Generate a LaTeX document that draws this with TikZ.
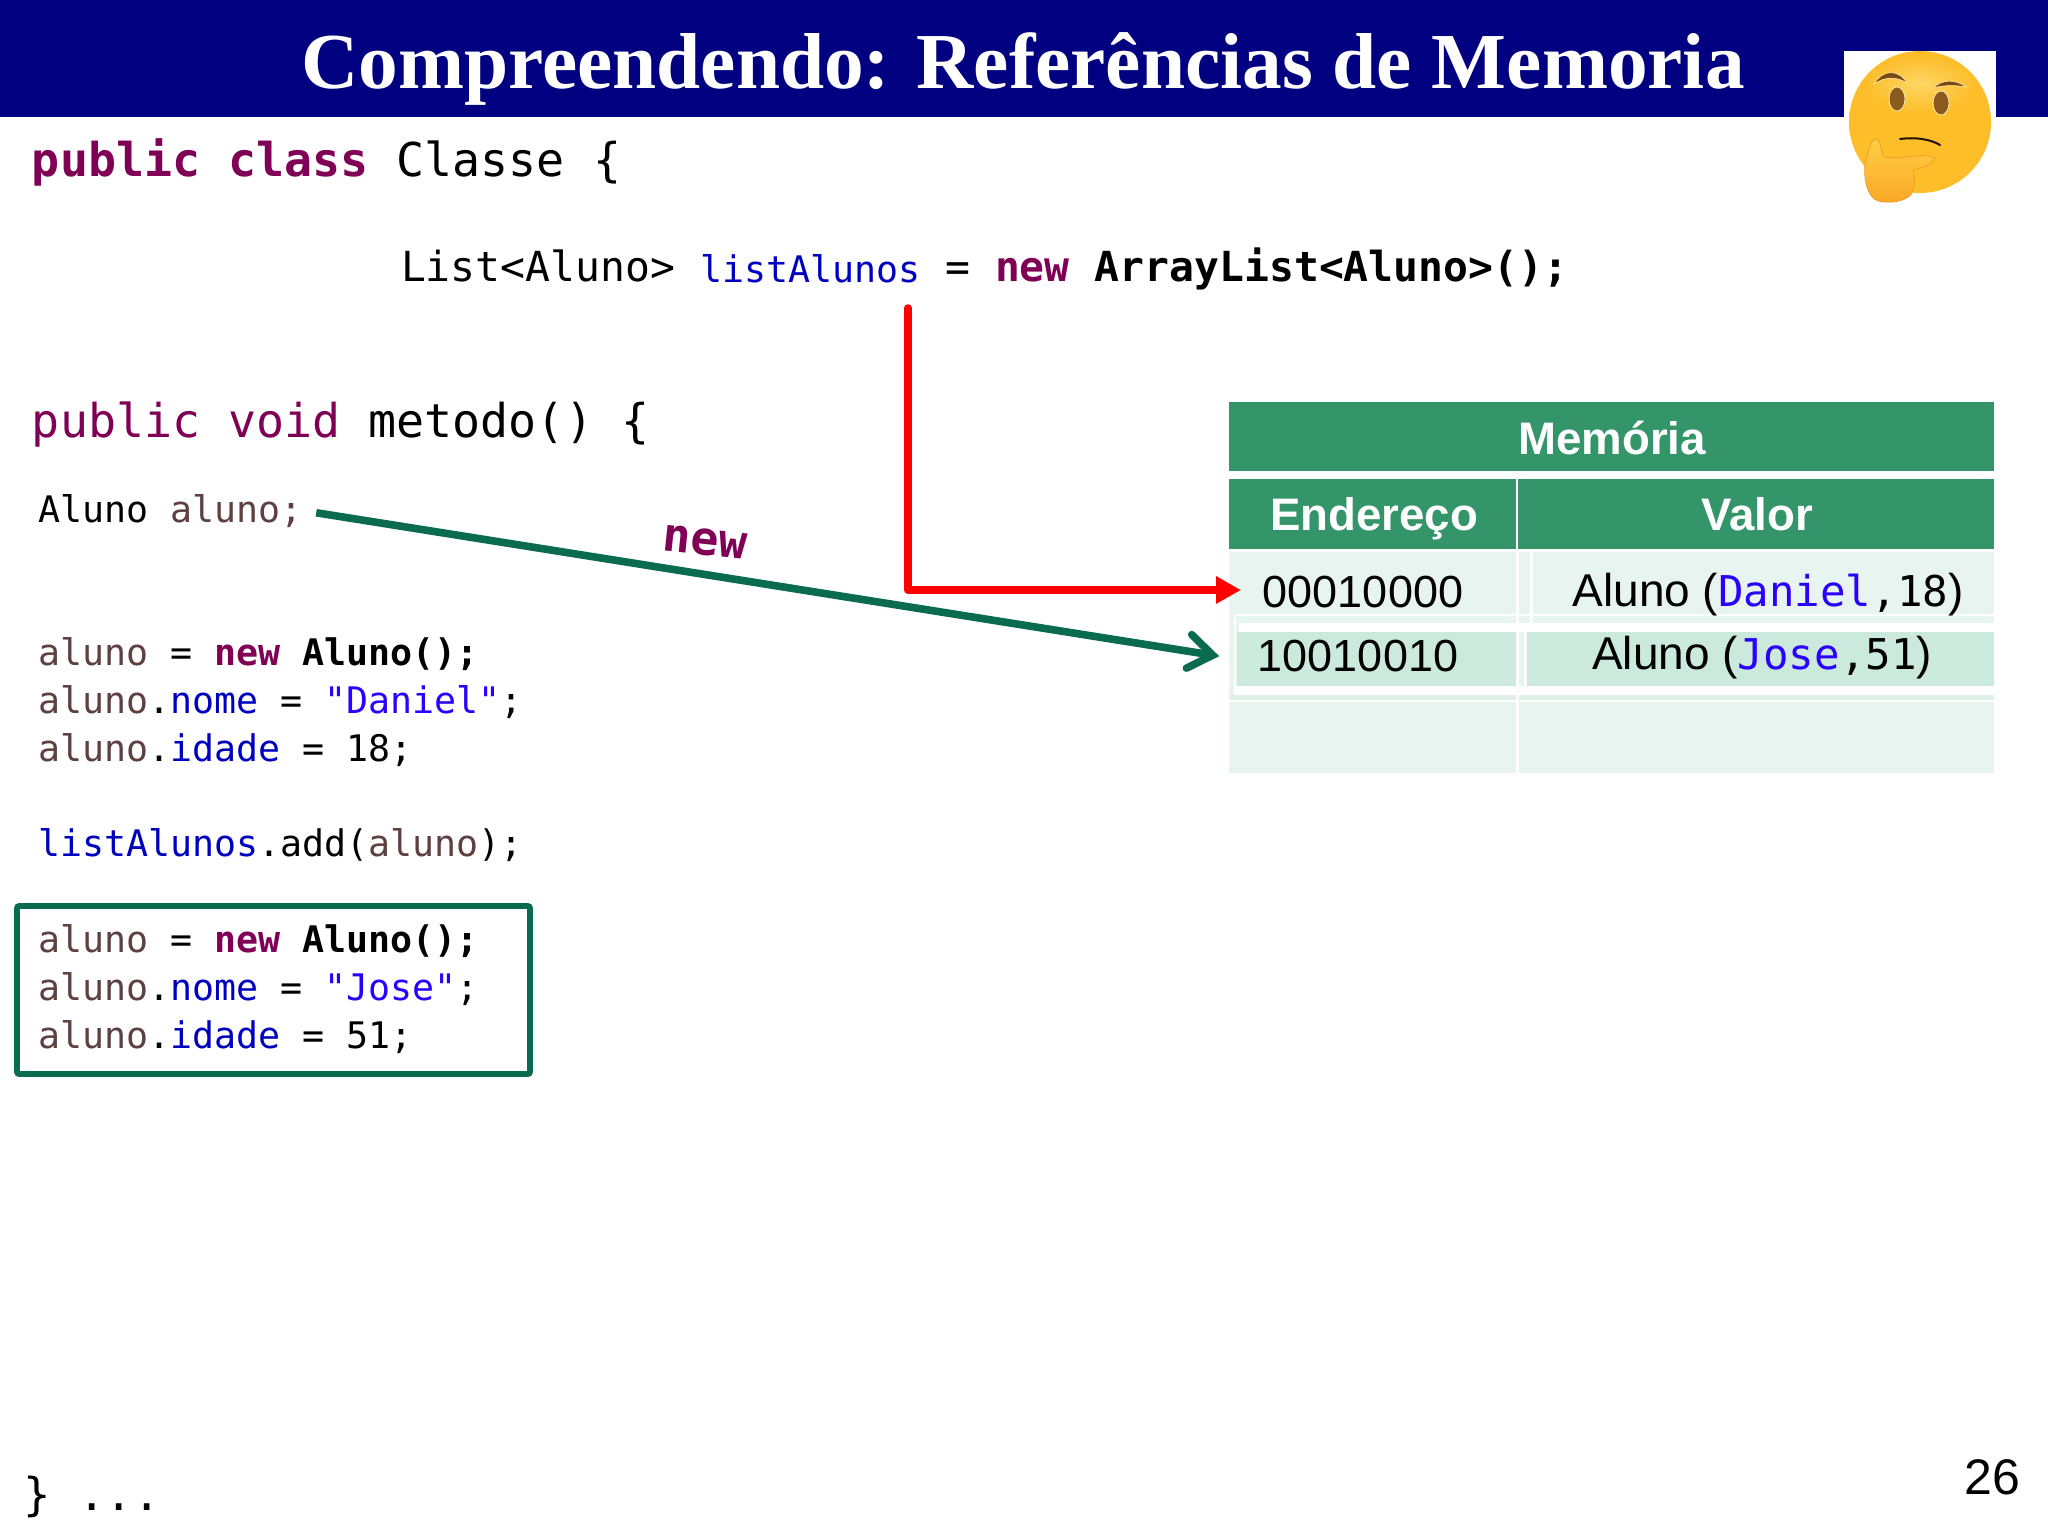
\documentclass[tikz,border=0pt]{standalone}
\usepackage{fontspec}
\usetikzlibrary{arrows.meta,calc,fadings}
\setmainfont{Liberation Sans}
\newfontfamily\mono{DejaVu Sans Mono}
\newfontfamily\ttl{Liberation Serif}
\definecolor{kw}{HTML}{7F0055}
\definecolor{loc}{HTML}{5E4040}
\definecolor{fld}{HTML}{0000C0}
\definecolor{str}{HTML}{2A00FF}
\definecolor{hdrgreen}{HTML}{35956A}
\definecolor{rowa}{HTML}{E8F4EF}
\definecolor{rowb}{HTML}{CCE9DE}
\definecolor{arrgreen}{HTML}{0B6B4F}
\definecolor{navy}{HTML}{000080}
\definecolor{emoA}{HTML}{FDBE2A}
\definecolor{emoB}{HTML}{FBAE26}
\definecolor{emoC}{HTML}{F39323}
\definecolor{emoH}{HTML}{FFD766}
\definecolor{handA}{HTML}{FFCE47}
\definecolor{handB}{HTML}{F9A825}
\definecolor{browc}{HTML}{7A4A12}
\definecolor{eyec}{HTML}{8A5A1E}
\definecolor{rimc}{HTML}{FFE9A8}
\pgfdeclareradialshading{emoface}{\pgfpoint{0bp}{0bp}}{color(0bp)=(emoA);color(36bp)=(emoA);color(45bp)=(emoB);color(50bp)=(emoC)}
\tikzfading[name=softglow,inner color=transparent!0,outer color=transparent!100]
\newcommand{\kw}[1]{\textcolor{kw}{\textbf{#1}}}
\newcommand{\lc}[1]{\textcolor{loc}{#1}}
\newcommand{\fd}[1]{\textcolor{fld}{#1}}
\newcommand{\st}[1]{\textcolor{str}{#1}}
\tikzset{
  txt/.style={inner sep=0pt,outer sep=0pt,anchor=base west},
  codebig/.style={txt,font=\mono\fontsize{23.3}{28}\selectfont},
  codemid/.style={txt,font=\mono\fontsize{20.7}{25}\selectfont},
  code/.style={txt,font=\mono\fontsize{18.3}{22}\selectfont},
  head/.style={inner sep=0pt,anchor=base,text=white,font=\bfseries\fontsize{22.8}{27}\selectfont},
  val/.style={inner sep=0pt,anchor=base,font=\fontsize{22.5}{27}\selectfont},
  valb/.style={inner sep=0pt,anchor=base,font=\fontsize{23}{27}\selectfont},
  cell/.style={inner sep=0pt,outer sep=0pt,anchor=west,minimum height=#1*0.5pt},
  whiteline/.style={draw=white,line width=1.5pt},
}
\newcommand{\mv}[1]{{\mono\fontsize{21.2}{25}\selectfont #1}}
\begin{document}
\begin{tikzpicture}[x=0.5pt,y=-0.5pt]
\useasboundingbox (0,0) rectangle (2048,1536);
\fill[white] (0,0) rectangle (2048,1536);
% banner
\fill[navy] (0,0) rectangle (2048,117);
\fill[white] (1844,51) rectangle (1996,117);
\node[txt,anchor=base,text=white,font=\ttl\bfseries\fontsize{39.65}{48}\selectfont] (title) at (1023,89) {Compreendendo: Referências de Memoria};
% table
\fill[hdrgreen] (1229,402) rectangle (1994,471);
\fill[hdrgreen] (1229,479) rectangle (1994,549);
\draw[white,line width=1pt] (1517,479) -- (1517,549);
\fill[rowa] (1229,552) rectangle (1994,702);
\fill[rowa] (1229,702) rectangle (1994,773);
\fill[white] (1239,623) rectangle (1994,632);
\fill[white] (1235,686) rectangle (1994,695);
\fill[rowa!70!rowb] (1229,695) rectangle (1994,700);
\fill[white] (1229,700) rectangle (1994,702);
\node[cell=50,fill=rowa,minimum width=138pt] (rowone) at (1241,590) {};
\node[cell=54,fill=rowb,minimum width=140pt] (rowtwo) at (1237,659) {};
\fill[rowb] (1526,632) rectangle (1994,686);
\draw[whiteline] (1517,552) -- (1517,623);
\draw[whiteline] (1531,552) -- (1531,623);
\draw[whiteline] (1517,632) -- (1517,686);
\draw[whiteline] (1525,632) -- (1525,686);
\draw[whiteline] (1517,695) -- (1517,773);
\draw[white,line width=0.8pt] (1235,615) -- (1994,615);
\draw[white,line width=0.8pt] (1235,615) -- (1235,695);
\node[head] (memoria) at (1612,454) {Memória};
\node[head] (endereco) at (1374,530) {Endereço};
\node[head] (valor) at (1757,530) {Valor};
\node[val] (a1) at (1363,607) {00010000};
\node[val] (a2) at (1358,671) {10010010};
\node[valb] (v1) at (1768,606) {Aluno (\mv{\st{Daniel},18})};
\node[valb] (v2) at (1762,669) {Aluno (\mv{\st{Jose},51})};
% code
\node[codebig] (l1) at (32,176) {\kw{public class} Classe \{};
\node[codemid] (l2a) at (401,281) {List<Aluno>};
\node[code,text=fld] (l2b) at (700,282) {listAlunos};
\node[codemid] (l2c) at (945,281) {=};
\node[codemid] (l2d) at (995,281) {\kw{new} \textbf{ArrayList<Aluno>();}};
\node[codebig] (l3) at (32,437) {\textcolor{kw}{public void} metodo() \{};
\node[code] (decl) at (38,522) {Aluno \lc{aluno;}};
\node[code] (n1) at (38,665) {\lc{aluno} = \kw{new} \textbf{Aluno();}};
\node[code] (n2) at (38,713) {\lc{aluno}.\fd{nome} = \st{"Daniel"};};
\node[code] (n3) at (38,761) {\lc{aluno}.\fd{idade} = 18;};
\node[code] (n4) at (38,856) {\fd{listAlunos}.add(\lc{aluno});};
\node[code] (n5) at (38,952) {\lc{aluno} = \kw{new} \textbf{Aluno();}};
\node[code] (n6) at (38,1000) {\lc{aluno}.\fd{nome} = \st{"Jose"};};
\node[code] (n7) at (38,1048) {\lc{aluno}.\fd{idade} = 51;};
\draw[arrgreen,line width=2.8pt,rounded corners=1pt] (17,906) rectangle (530,1074);
\node[txt,font=\mono\fontsize{22.7}{26}\selectfont] (endl) at (24,1510) {\} ...};
\node[txt,anchor=base east,font=\fontsize{25}{30}\selectfont] (pg) at (2020,1494) {26};
\node[inner sep=0pt,rotate=-6,text=kw,font=\mono\bfseries\fontsize{23.4}{28}\selectfont] (newl) at (705,542) {new};
% connectors
\coordinate (redstart) at (908,308);
\draw[red,line width=3.8pt,line cap=round,line join=round,-{Triangle[length=12.5pt,width=13pt]}] (redstart) |- (rowone.west);
\draw[arrgreen,line width=3.8pt,shorten <=7pt,shorten >=9pt,-{Straight Barb[length=12pt,width=17pt,line cap=round]}] (decl.east) -- (rowtwo.west);
% emoji
\shade[shading=emoface] (1920,122) circle (71);
\fill[emoH,path fading=softglow] (1920,84) ellipse (56 and 28);
\fill[browc,draw=rimc,line width=.3pt] (1874,84) .. controls (1882,70) and (1898,68) .. (1907,83) .. controls (1896,76) and (1884,77) .. (1874,84) -- cycle;
\fill[browc,draw=rimc,line width=.3pt] (1933,88) .. controls (1942,79) and (1956,79) .. (1966,87) .. controls (1955,85) and (1944,85) .. (1933,88) -- cycle;
\fill[eyec,draw=rimc,line width=.4pt] (1897,99) ellipse (8 and 12);
\fill[eyec,draw=rimc,line width=.4pt] (1941,103) ellipse (8 and 12);
\draw[black!75!browc,line width=1pt,line cap=round] (1900,139) .. controls (1915,137) and (1930,139) .. (1940,145);
\shade[top color=handA,bottom color=handB,draw=emoC,line width=.3pt] (1865,163) .. controls (1868,155) and (1870,140) .. (1875,139) .. controls (1882,139) and (1880,152) .. (1884,157) .. controls (1900,160) and (1925,152) .. (1935,158) .. controls (1932,166) and (1920,168) .. (1913,170) .. controls (1916,180) and (1914,195) .. (1908,197) .. controls (1900,203) and (1885,203) .. (1878,201) .. controls (1868,198) and (1863,180) .. (1865,163) -- cycle;
\end{tikzpicture}
\end{document}
